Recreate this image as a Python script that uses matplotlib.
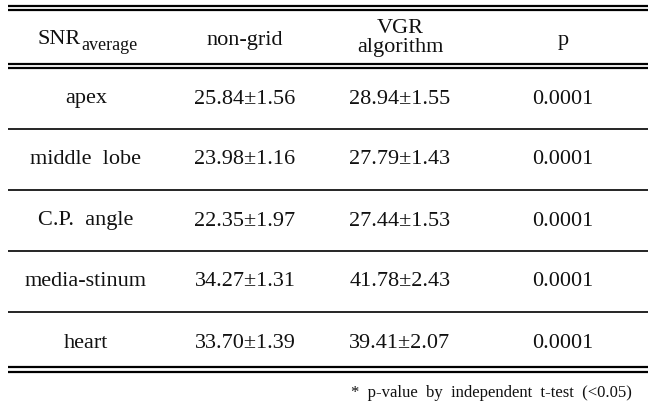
import matplotlib.pyplot as plt

regions = ["apex", "middle  lobe", "C.P.  angle", "media-stinum", "heart"]
nongrid_mean = [25.84, 23.98, 22.35, 34.27, 33.70]
nongrid_sd = [1.56, 1.16, 1.97, 1.31, 1.39]
vgr_mean = [28.94, 27.79, 27.44, 41.78, 39.41]
vgr_sd = [1.55, 1.43, 1.53, 2.43, 2.07]
p_values = ["0.0001", "0.0001", "0.0001", "0.0001", "0.0001"]
footnote = "*  p-value  by  independent  t-test  (<0.05)"

W, H = 656, 418
fig = plt.figure(figsize=(W / 100, H / 100), dpi=100)
ax = fig.add_axes([0, 0, 1, 1])
ax.set_xlim(0, W)
ax.set_ylim(H, 0)
ax.axis("off")

font = dict(family="Liberation Serif", fontsize=16, color="#111111",
            ha="center", va="center")
col_x = [86, 245, 400, 563]
x0, x1 = 8, 648

# double rules: top, under header, bottom
for y in (5.5, 9.5, 63.5, 68, 367, 371.5):
    ax.hlines(y, x0, x1, color="black", lw=1.6)

# header (subscript drawn as a second smaller text)
ax.text(81, 40, "SNR", **{**font, "ha": "right"})
ax.text(81, 45, "average", **{**font, "ha": "left", "fontsize": 13})
ax.text(col_x[1], 40, "non-grid", **font)
ax.text(col_x[2], 38, "VGR\nalgorithm", linespacing=0.98, **font)
ax.text(col_x[3], 40, "p", **font)

row_h = 61
first_y = 99
for i, name in enumerate(regions):
    y = first_y + i * row_h
    ax.text(col_x[0], y, name, **font)
    ax.text(col_x[1], y, f"{nongrid_mean[i]:.2f}±{nongrid_sd[i]:.2f}", **font)
    ax.text(col_x[2], y, f"{vgr_mean[i]:.2f}±{vgr_sd[i]:.2f}", **font)
    ax.text(col_x[3], y, p_values[i], **font)
    if i < len(regions) - 1:
        ax.hlines(first_y - 1 + i * row_h + row_h / 2, x0, x1,
                  color="black", lw=1.2)

ax.text(632, 393, footnote, family="Liberation Serif", fontsize=12,
        color="#111111", ha="right", va="center")

fig.savefig("out.png", dpi=100)
